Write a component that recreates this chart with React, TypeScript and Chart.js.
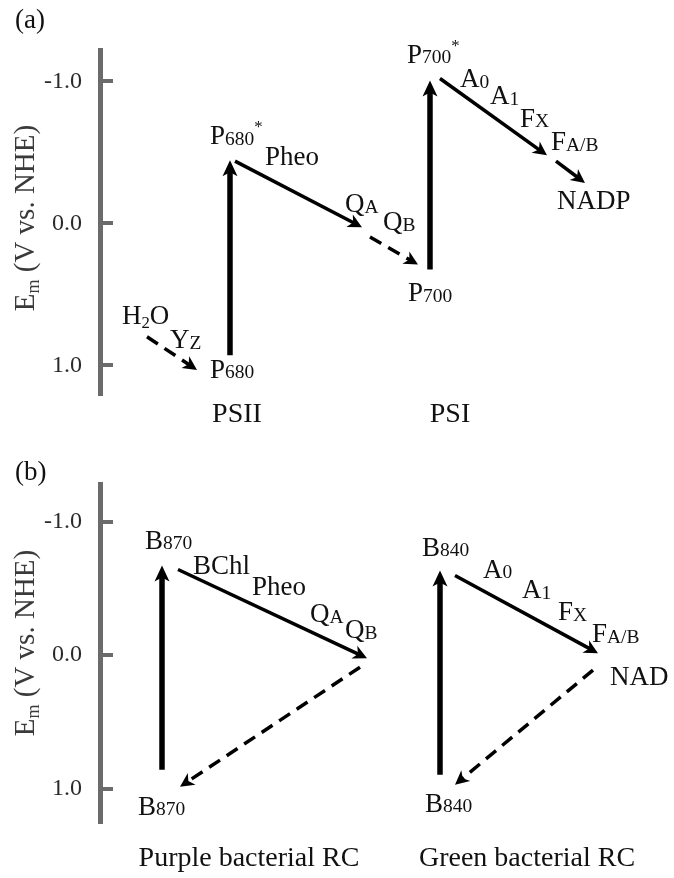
import React, { useEffect, useRef } from 'react';
import { Chart, registerables } from 'chart.js';

Chart.register(...registerables);

const FONT = '"Liberation Serif", "Times New Roman", serif';

// ---------- shared axis ----------
const emTicks = [-1.0, 0.0, 1.0];
const axisTitle = 'E~{m} (V vs. NHE)';

// ---------- panel (a): Z-scheme ----------
const aEmRange = [-1.22, 1.2];
const aArrowKind = ['dashed', 'light', 'forward', 'dashed', 'light', 'forward', 'forward'];
const aArrowX0 = [4.7, 13.0, 13.5, 27.0, 33.0, 34.0, 45.6];
const aArrowEm0 = [0.8, 0.93, -0.437, 0.097, 0.326, -1.019, -0.437];
const aArrowX1 = [9.7, 13.0, 26.2, 31.8, 33.0, 44.7, 48.5];
const aArrowEm1 = [1.033, -0.444, 0.028, 0.291, -1.006, -0.478, -0.284];

const aLabelText = ['H~{2}O', 'Y_{Z}', 'P_{680}', 'P_{680}^{*}', 'Pheo', 'Q_{A}', 'Q_{B}', 'P_{700}', 'P_{700}^{*}', 'A_{0}', 'A_{1}', 'F_{X}', 'F_{A/B}', 'NADP'];
const aLabelX = [2.2, 7.0, 11.0, 11.0, 16.5, 24.5, 28.3, 30.8, 30.7, 36.0, 39.0, 42.0, 45.1, 45.7];
const aLabelEm = [0.707, 0.881, 1.089, -0.555, -0.409, -0.076, 0.049, 0.548, -1.13, -0.957, -0.839, -0.68, -0.513, -0.097];

const aGroupText = ['PSII', 'PSI'];
const aGroupX = [13.7, 35.0];
const aGroupEm = [1.401, 1.401];

// ---------- panel (b): bacterial RCs ----------
const bEmRange = [-1.28, 1.25];
const bArrowKind = ['light', 'forward', 'dashed', 'light', 'forward', 'dashed'];
const bArrowX0 = [6.2, 7.8, 26.0, 34.0, 35.5, 49.3];
const bArrowEm0 = [0.858, -0.642, 0.09, 0.896, -0.597, 0.112];
const bArrowX1 = [6.2, 26.7, 8.0, 34.0, 49.8, 35.5];
const bArrowEm1 = [-0.672, 0.022, 0.985, -0.634, -0.015, 0.97];

const bLabelText = ['B_{870}', 'BChl', 'Pheo', 'Q_{A}', 'Q_{B}', 'B_{870}', 'B_{840}', 'A_{0}', 'A_{1}', 'F_{X}', 'F_{A/B}', 'NAD', 'B_{840}'];
const bLabelX = [4.5, 9.3, 15.2, 21.0, 24.5, 3.8, 32.2, 38.3, 42.2, 45.8, 49.2, 51.0, 32.5];
const bLabelEm = [-0.799, -0.612, -0.448, -0.246, -0.127, 1.194, -0.746, -0.582, -0.425, -0.261, -0.097, 0.224, 1.172];

const bGroupText = ['Purple bacterial RC', 'Green bacterial RC'];
const bGroupX = [14.9, 42.7];
const bGroupEm = [1.582, 1.582];

// ---------- styles ----------
const ARROW_STYLE: Record<string, { width: number; dash: number[]; len: number; half: number; notch: number }> = {
  light: { width: 5.5, dash: [], len: 16, half: 7.5, notch: 4 },
  forward: { width: 3.5, dash: [], len: 14, half: 7, notch: 4 },
  dashed: { width: 3.5, dash: [13, 8], len: 14, half: 7, notch: 4 },
};

const SEG: Record<string, { scale: number; dy: number }> = {
  n: { scale: 1, dy: 0 },
  _: { scale: 0.72, dy: 0.02 },
  '~': { scale: 0.62, dy: 0.18 },
  '^': { scale: 0.62, dy: -0.45 },
};

function parseRich(s: string) {
  const segs: { t: string; k: string }[] = [];
  let buf = '';
  let i = 0;
  while (i < s.length) {
    const c = s[i];
    if ((c === '_' || c === '^' || c === '~') && s[i + 1] === '{') {
      if (buf) { segs.push({ t: buf, k: 'n' }); buf = ''; }
      const end = s.indexOf('}', i);
      segs.push({ t: s.slice(i + 2, end), k: c });
      i = end + 1;
    } else {
      buf += c;
      i++;
    }
  }
  if (buf) segs.push({ t: buf, k: 'n' });
  return segs;
}

function drawRich(ctx: CanvasRenderingContext2D, s: string, x: number, y: number, size: number, align: string, color: string) {
  const segs = parseRich(s);
  const widths = segs.map((sg) => {
    ctx.font = `${size * SEG[sg.k].scale}px ${FONT}`;
    return ctx.measureText(sg.t).width;
  });
  const total = widths.reduce((a, b) => a + b, 0);
  let cx = align === 'center' ? x - total / 2 : x;
  ctx.textAlign = 'left';
  ctx.textBaseline = 'alphabetic';
  ctx.fillStyle = color;
  segs.forEach((sg, i) => {
    ctx.font = `${size * SEG[sg.k].scale}px ${FONT}`;
    ctx.fillText(sg.t, cx, y + size * SEG[sg.k].dy);
    cx += widths[i];
  });
}

function headGeom(chart: any, ds: any) {
  const xs = chart.scales.x;
  const ys = chart.scales.y;
  const sx = xs.getPixelForValue(ds.data[0].x);
  const sy = ys.getPixelForValue(ds.data[0].y);
  const tx = xs.getPixelForValue(ds.data[1].x);
  const ty = ys.getPixelForValue(ds.data[1].y);
  const d = Math.hypot(tx - sx, ty - sy) || 1;
  return { tx, ty, ux: (tx - sx) / d, uy: (ty - sy) / d };
}

interface Panel {
  letter: string;
  letterY: number;
  titleY: number;
  padTop: number;
  padBottom: number;
  emRange: number[];
  kind: string[];
  x0: number[]; em0: number[]; x1: number[]; em1: number[];
  labelText: string[]; labelX: number[]; labelEm: number[];
  groupText: string[]; groupX: number[]; groupEm: number[];
}

const panelA: Panel = {
  letter: '(a)', letterY: 28, titleY: 218, padTop: 50, padBottom: 40, emRange: aEmRange,
  kind: aArrowKind, x0: aArrowX0, em0: aArrowEm0, x1: aArrowX1, em1: aArrowEm1,
  labelText: aLabelText, labelX: aLabelX, labelEm: aLabelEm,
  groupText: aGroupText, groupX: aGroupX, groupEm: aGroupEm,
};

const panelB: Panel = {
  letter: '(b)', letterY: 41, titleY: 204, padTop: 44, padBottom: 56, emRange: bEmRange,
  kind: bArrowKind, x0: bArrowX0, em0: bArrowEm0, x1: bArrowX1, em1: bArrowEm1,
  labelText: bLabelText, labelX: bLabelX, labelEm: bLabelEm,
  groupText: bGroupText, groupX: bGroupX, groupEm: bGroupEm,
};

function buildConfig(p: Panel): any {
  const datasets = p.kind.map((k, i) => ({
    type: 'line',
    data: [
      { x: p.x0[i], y: p.em0[i] },
      { x: p.x1[i], y: p.em1[i] },
    ],
    borderColor: '#000',
    backgroundColor: '#000',
    borderWidth: ARROW_STYLE[k].width,
    borderDash: ARROW_STYLE[k].dash,
    borderCapStyle: 'butt',
    pointRadius: 0,
    pointHoverRadius: 0,
    fill: false,
    tension: 0,
    arrowKind: k,
  }));

  const diagramPlugin = {
    id: 'diagram',
    beforeDatasetDraw(chart: any, args: any) {
      const ds = chart.data.datasets[args.index];
      const st = ARROW_STYLE[ds.arrowKind];
      const g = headGeom(chart, ds);
      const back = st.len - st.notch - 1;
      const pt = args.meta.data[1];
      pt.x = g.tx - g.ux * back;
      pt.y = g.ty - g.uy * back;
    },
    afterDatasetDraw(chart: any, args: any) {
      const ds = chart.data.datasets[args.index];
      const st = ARROW_STYLE[ds.arrowKind];
      const { tx, ty, ux, uy } = headGeom(chart, ds);
      const ctx = chart.ctx;
      const bx = tx - ux * st.len;
      const by = ty - uy * st.len;
      const px = -uy;
      const py = ux;
      ctx.save();
      ctx.fillStyle = '#000';
      ctx.beginPath();
      ctx.moveTo(tx, ty);
      ctx.lineTo(bx + px * st.half, by + py * st.half);
      ctx.lineTo(tx - ux * (st.len - st.notch), ty - uy * (st.len - st.notch));
      ctx.lineTo(bx - px * st.half, by - py * st.half);
      ctx.closePath();
      ctx.fill();
      ctx.restore();
    },
    afterDraw(chart: any) {
      const ctx = chart.ctx;
      const xs = chart.scales.x;
      const ys = chart.scales.y;
      ctx.save();
      p.labelText.forEach((t, i) => {
        drawRich(ctx, t, xs.getPixelForValue(p.labelX[i]), ys.getPixelForValue(p.labelEm[i]), 27, 'left', '#111');
      });
      p.groupText.forEach((t, i) => {
        drawRich(ctx, t, xs.getPixelForValue(p.groupX[i]), ys.getPixelForValue(p.groupEm[i]), 28, 'center', '#111');
      });
      // panel letter
      drawRich(ctx, p.letter, 15, p.letterY, 27, 'left', '#111');
      // axis title (rotated)
      ctx.translate(34, p.titleY);
      ctx.rotate(-Math.PI / 2);
      drawRich(ctx, axisTitle, 0, 0, 29, 'center', '#3a3a3a');
      ctx.restore();
    },
  };

  return {
    type: 'scatter',
    data: { datasets },
    options: {
      responsive: false,
      maintainAspectRatio: false,
      animation: false,
      events: [],
      layout: { padding: { left: 0, right: 14, top: p.padTop, bottom: p.padBottom } },
      plugins: { legend: { display: false }, tooltip: { enabled: false }, title: { display: false } },
      scales: {
        x: { type: 'linear', min: 0, max: 56, display: false },
        y: {
          type: 'linear',
          position: 'left',
          min: p.emRange[0],
          max: p.emRange[1],
          reverse: true,
          afterBuildTicks: (s: any) => { s.ticks = emTicks.map((v) => ({ value: v })); },
          afterFit: (s: any) => { s.width = 100; },
          border: { display: true, color: '#6b6b6b', width: 5 },
          grid: { display: true, drawOnChartArea: false, drawTicks: true, tickLength: -13, color: '#6b6b6b', lineWidth: 4 },
          ticks: {
            font: { family: FONT, size: 24 },
            color: '#2a2a2a',
            padding: 31,
            autoSkip: false,
            callback: (v: any) => Number(v).toFixed(1),
          },
        },
      },
    },
    plugins: [diagramPlugin],
  };
}

export default function App() {
  const refA = useRef<HTMLCanvasElement>(null);
  const refB = useRef<HTMLCanvasElement>(null);
  useEffect(() => {
    const ca = new Chart(refA.current as HTMLCanvasElement, buildConfig(panelA));
    const cb = new Chart(refB.current as HTMLCanvasElement, buildConfig(panelB));
    return () => {
      ca.destroy();
      cb.destroy();
    };
  }, []);
  return (
    <div style={{ position: 'absolute', left: 0, top: 0, width: 674, height: 878, background: '#fff' }}>
      <canvas ref={refA} width={674} height={439} style={{ position: 'absolute', left: 0, top: 0, width: 674, height: 439 }} />
      <canvas ref={refB} width={674} height={439} style={{ position: 'absolute', left: 0, top: 439, width: 674, height: 439 }} />
    </div>
  );
}
